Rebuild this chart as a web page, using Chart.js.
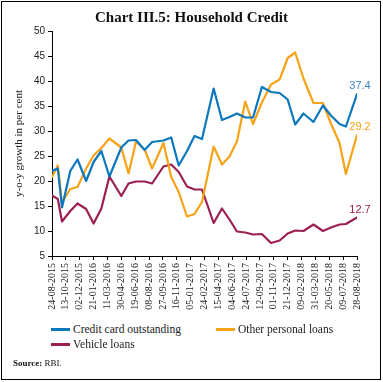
<!DOCTYPE html>
<html><head><meta charset="utf-8">
<script src="https://cdn.jsdelivr.net/npm/chart.js@4/dist/chart.umd.min.js"></script>
<style>
html,body{margin:0;padding:0;background:#fff;}
#wrap{position:relative;width:383px;height:382px;overflow:hidden;background:#fff;}
#frame{position:absolute;left:1px;top:1px;width:378px;height:377px;border:1px solid #000;}
#c{position:absolute;left:0;top:0;}
.leg{position:absolute;font-family:'Liberation Serif',serif;font-size:11.5px;color:#222;line-height:14px;white-space:nowrap;}
.leg i{display:inline-block;width:19px;height:3px;vertical-align:middle;margin-right:3px;position:relative;top:-1px;}
#src{position:absolute;left:13px;top:358px;font-family:'Liberation Serif',serif;font-size:9px;color:#111;}
</style></head>
<body>
<div id="wrap">
<canvas id="c" width="383" height="320"></canvas>
<div class="leg" style="left:51px;top:322px"><i style="background:#0b77bd"></i>Credit card outstanding</div>
<div class="leg" style="left:216px;top:322px"><i style="background:#f6a318"></i>Other personal loans</div>
<div class="leg" style="left:51px;top:337px"><i style="background:#9c1f52"></i>Vehicle loans</div>
<div id="src"><b>Source:</b> RBI.</div>
<div id="frame"></div>
</div>
<script>
const startDate = '24-08-2015';
const dates = ['24-08-2015','14-09-2015','29-09-2015','29-10-2015','24-11-2015','25-12-2015','21-01-2016','18-02-2016','18-03-2016','30-04-2016','26-05-2016','22-06-2016','23-07-2016','19-08-2016','29-09-2016','27-10-2016','23-11-2016','23-12-2016','19-01-2017','15-02-2017','29-03-2017','28-04-2017','25-05-2017','21-06-2017','21-07-2017','18-08-2017','19-09-2017','22-10-2017','22-11-2017','21-12-2017','17-01-2018','16-02-2018','24-03-2018','27-04-2018','26-05-2018','26-06-2018','19-07-2018','28-08-2018'];
const creditCard = [22.0,22.5,14.7,22.0,24.3,20.0,23.8,26.0,20.9,26.7,28.1,28.2,26.2,27.8,28.1,28.7,23.1,26.0,29.0,28.4,38.5,32.2,32.8,33.5,32.7,32.7,38.8,37.8,37.6,36.3,31.3,33.5,31.8,35.1,33.1,31.4,30.9,37.4];
const otherPersonal = [20.8,23.1,15.7,18.4,18.8,22.5,25.1,26.6,28.5,26.7,21.5,27.9,26.3,22.5,27.6,20.8,17.8,12.9,13.4,15.8,26.9,23.3,24.9,27.9,35.9,31.4,35.7,39.3,40.3,44.6,45.7,40.5,35.6,35.6,31.5,27.6,21.4,29.2];
const vehicle = [17.1,16.4,11.9,14.0,15.5,14.4,11.5,14.5,20.9,17.0,19.5,19.9,19.9,19.5,22.9,23.3,21.8,18.9,18.3,18.3,11.6,14.5,12.3,9.9,9.7,9.3,9.4,7.6,8.1,9.5,10.1,10.0,11.3,10.0,10.7,11.3,11.4,12.7];
const seriesNames = ['Credit card outstanding','Other personal loans','Vehicle loans'];
const xTickStepDays = 50;
const xSpanDays = 1100;

function parseD(s){const p=s.split('-');return Date.UTC(+p[2],+p[1]-1,+p[0]);}
const DAY=86400000;
const t0=parseD(startDate);
function dayOf(s){return Math.round((parseD(s)-t0)/DAY);}
function fmt(d){const dt=new Date(t0+d*DAY);const dd=String(dt.getUTCDate()).padStart(2,'0');const mm=String(dt.getUTCMonth()+1).padStart(2,'0');return dd+'-'+mm+'-'+dt.getUTCFullYear();}
function pts(arr){return arr.map((v,i)=>({x:dayOf(dates[i]),y:v}));}

const colors=['#0b77bd','#f6a318','#9c1f52'];
const labelColors=['#3f86c9','#f6a318','#9c1f52'];

const endLabels={id:'endLabels',afterDatasetsDraw(chart){
  const ctx=chart.ctx;ctx.save();
  ctx.font="11px 'Liberation Sans', sans-serif";ctx.textAlign='center';ctx.textBaseline='middle';
  chart.data.datasets.forEach((ds,i)=>{const m=chart.getDatasetMeta(i);const el=m.data[m.data.length-1];
    ctx.fillStyle=labelColors[i];ctx.fillText(ds.data[ds.data.length-1].y.toFixed(1),el.x+3,el.y-8);});
  ctx.restore();}};

new Chart(document.getElementById('c'),{
  type:'line',
  data:{datasets:[
    {label:seriesNames[0],data:pts(creditCard),borderColor:colors[0]},
    {label:seriesNames[1],data:pts(otherPersonal),borderColor:colors[1]},
    {label:seriesNames[2],data:pts(vehicle),borderColor:colors[2]}
  ]},
  options:{
    responsive:false,animation:false,devicePixelRatio:1,
    elements:{line:{borderWidth:2.2,tension:0,borderCapStyle:'round',borderJoinStyle:'round'},point:{radius:0}},
    layout:{padding:{left:0,right:0,top:0,bottom:0}},
    plugins:{
      legend:{display:false},tooltip:{enabled:false},
      title:{display:true,text:'Chart III.5: Household Credit',color:'#111',font:{family:"'Liberation Serif', serif",size:15,weight:'bold',lineHeight:1.2},padding:{top:9,bottom:4}}
    },
    scales:{
      x:{type:'linear',min:0,max:xSpanDays,
        afterFit(s){s.height=64;},
        ticks:{stepSize:xTickStepDays,autoSkip:false,maxRotation:90,minRotation:90,padding:3,color:'#222',
          font:{family:"'Liberation Serif', serif",size:10},callback:(v)=>fmt(v)},
        grid:{display:true,drawOnChartArea:false,drawTicks:true,tickLength:4,color:'#000'},
        border:{display:true,color:'#000',width:1}},
      y:{min:5,max:50,
        afterFit(s){s.width=52;},
        ticks:{stepSize:5,padding:3,color:'#222',font:{family:"'Liberation Sans', sans-serif",size:10}},
        grid:{display:true,drawOnChartArea:false,drawTicks:true,tickLength:4,color:'#000'},
        border:{display:true,color:'#000',width:1},
        title:{display:true,text:'y-o-y growth in per cent',color:'#222',font:{family:"'Liberation Serif', serif",size:11},padding:{top:13,bottom:0}}},
      yRightSpace:{position:'right',min:5,max:50,
        afterFit(s){s.width=26;},
        ticks:{display:false},grid:{display:false,drawTicks:false},border:{display:false}}
    }
  },
  plugins:[endLabels]
});
</script>
</body></html>
